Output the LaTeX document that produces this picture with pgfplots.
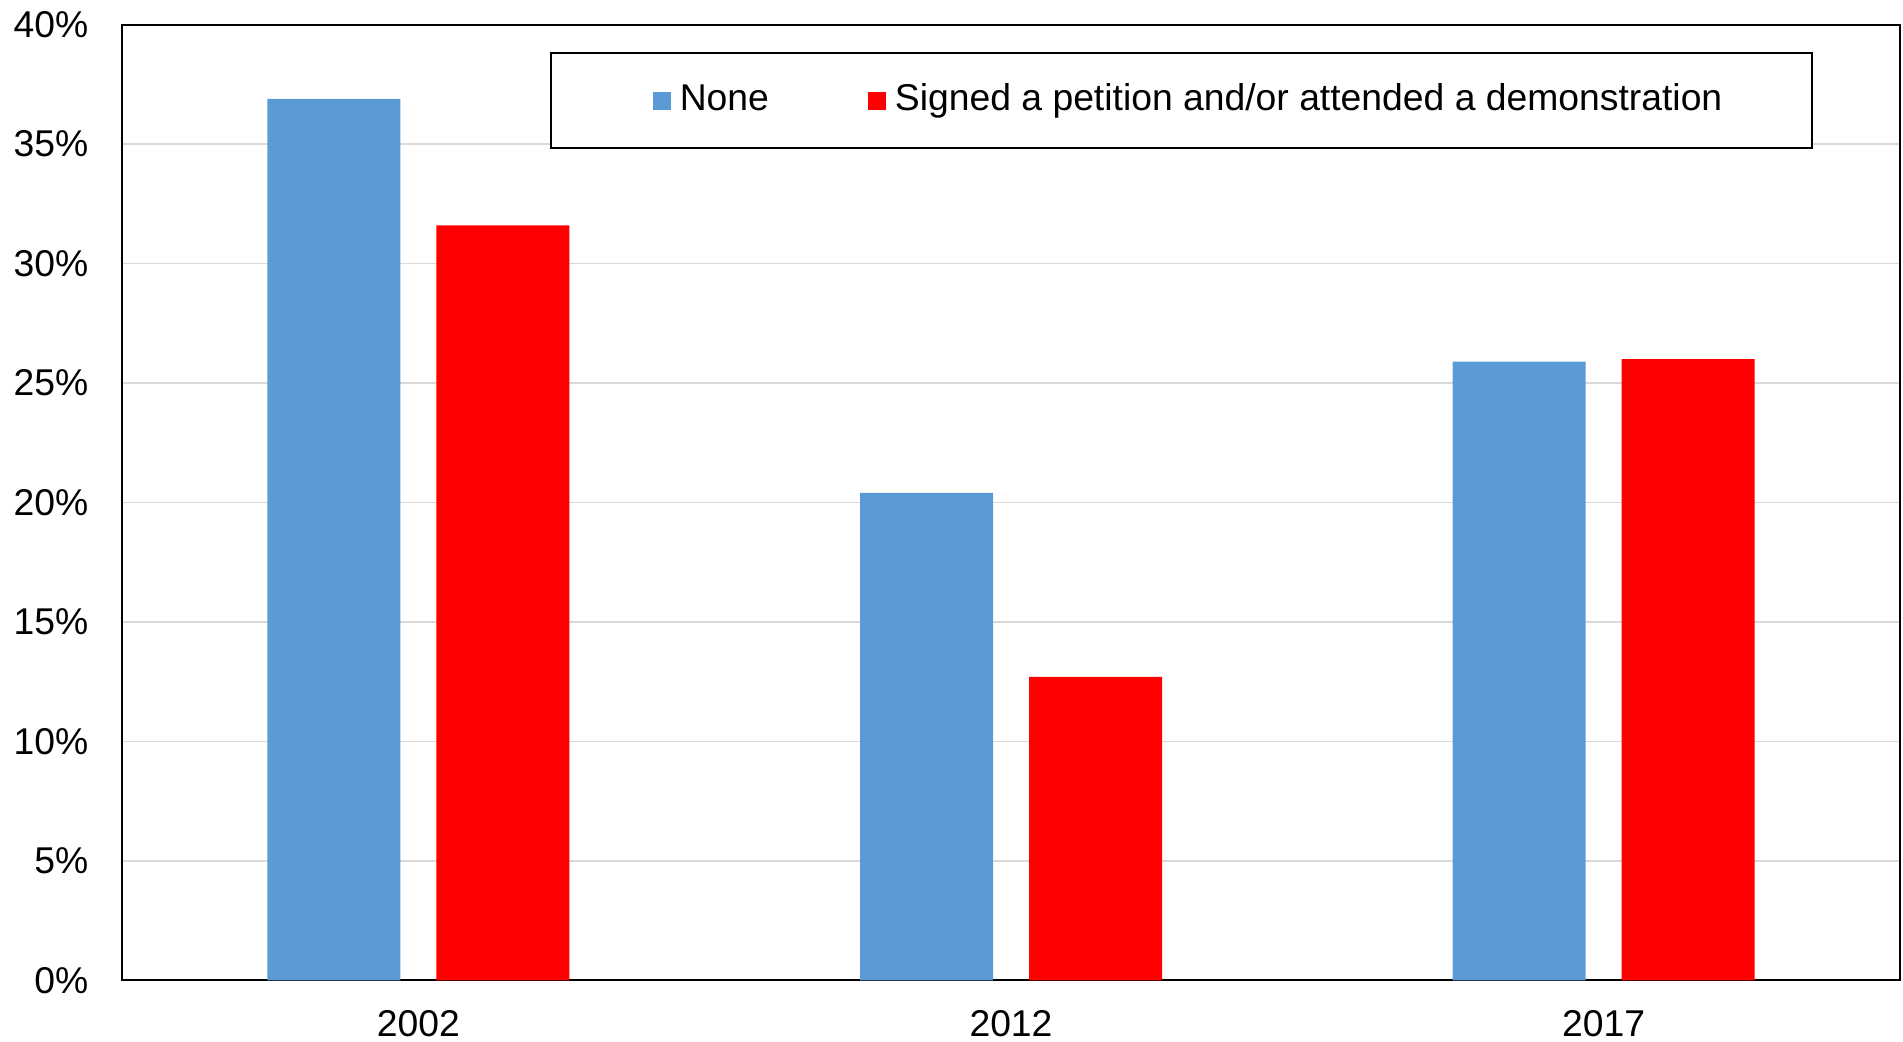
\documentclass[border=0pt]{standalone}
\usepackage{pgfplots}
\pgfplotsset{compat=1.18}
\usepackage{fontspec}
\setmainfont{Liberation Sans}
\definecolor{cblue}{HTML}{5B9BD5}
\definecolor{cred}{HTML}{FF0000}
\definecolor{cgrid}{HTML}{D9D9D9}
\begin{document}
\fontsize{18.65bp}{22bp}\selectfont
\begin{tikzpicture}
\begin{axis}[
  at={(0,0)}, anchor=south west,
  scale only axis, width=889bp, height=477.8bp,
  xmin=-0.5, xmax=2.5, ymin=0, ymax=40,
  ybar=18bp, bar width=66.5bp,
  xtick={0,1,2}, xticklabels={2002,2012,2017},
  ytick={0,5,...,40}, yticklabels={0\%,5\%,10\%,15\%,20\%,25\%,30\%,35\%,40\%},
  major tick length=0pt,
  ymajorgrids, grid style={draw=cgrid, line width=0.75bp},
  axis line style={line width=1bp},
  tick label style={font=\fontsize{18.65bp}{22bp}\selectfont},
  /pgf/number format/assume math mode=true,
  xticklabel style={anchor=base, yshift=-28.3bp, inner sep=0pt},
  yticklabel style={anchor=east, xshift=-16.7bp, inner sep=0pt},
  legend columns=2,
  legend style={at={(0.2406,0.9714)}, anchor=north west, draw=black, line width=1bp,
    inner xsep=45bp, inner ysep=15bp,
    nodes={inner sep=0pt, text height=13.9bp, text depth=3.6bp},
    font=\fontsize{18.65bp}{22bp}\selectfont,
    /tikz/every odd column/.append style={column sep=4.5bp},
    /tikz/every even column/.append style={column sep=43.5bp}},
]
\addplot[fill=cblue, draw=none,
  legend image code/.code={\path (-6bp,0); \fill[cblue] (0bp,-4.5bp) rectangle (9bp,4.5bp);}]
  coordinates {(0,36.9) (1,20.4) (2,25.9)};
\addplot[fill=cred, draw=none,
  legend image code/.code={\path (-6bp,0); \fill[cred] (0bp,-4.5bp) rectangle (9bp,4.5bp);}]
  coordinates {(0,31.6) (1,12.7) (2,26.0)};
\legend{None, Signed a petition and/or attended a demonstration}
\end{axis}
\path[use as bounding box] (-61bp,-30.85bp) rectangle (890.5bp,490.15bp);
\end{tikzpicture}
\end{document}
